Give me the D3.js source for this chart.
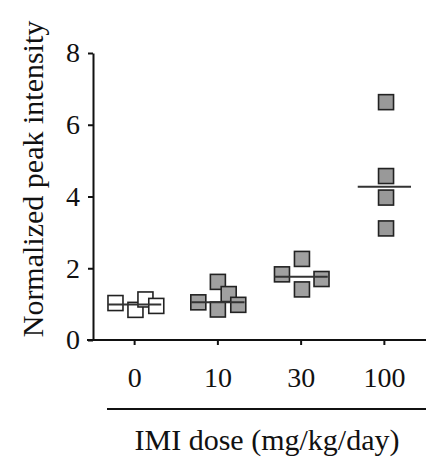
<!DOCTYPE html>
<html>
<head>
<meta charset="utf-8">
<script src="https://cdn.jsdelivr.net/npm/d3@7"></script>
<style>
    body { margin: 0; background: #fff; }
    text { font-family: "Liberation Serif", "Times New Roman", serif; fill: #111; }
</style>
</head>
<body>
<div id="chart"></div>
<script>
// dose groups (x categories)
const doses = ["0", "10", "30", "100"];
// normalized peak intensity per animal, per dose group
const dose0 = [1.03, 0.84, 1.13, 0.95];
const dose10 = [1.05, 1.62, 1.28, 0.85, 0.98];
const dose30 = [1.83, 2.26, 1.70, 1.41];
const dose100 = [6.63, 4.57, 3.97, 3.11];
// horizontal scatter of the points, as a fraction of the group band
const jitter0 = [-0.23, 0.01, 0.13, 0.26];
const jitter10 = [-0.235, 0, 0.13, 0, 0.245];
const jitter30 = [-0.23, 0.01, 0.245, 0.01];
const jitter100 = [0.02, 0.02, 0.02, 0.02];
const yTicks = [0, 2, 4, 6, 8];

const groups = [
    { dose: "0", values: dose0, jitter: jitter0, fill: "#ffffff" },
    { dose: "10", values: dose10, jitter: jitter10, fill: "#a0a0a0" },
    { dose: "30", values: dose30, jitter: jitter30, fill: "#a0a0a0" },
    { dose: "100", values: dose100, jitter: jitter100, fill: "#999999" }
];

const width = 426, height = 458;
const margin = { top: 53, left: 93, bottom: 340, right: 426 };
const sq = 15;

const svg = d3.select("#chart")
    .append("svg")
    .attr("width", width)
    .attr("height", height);

const xScale = d3.scaleBand().domain(doses).range([margin.left, margin.right]).paddingInner(0);
const yScale = d3.scaleLinear().domain([0, 8]).range([margin.bottom, margin.top]);
const cx = d => xScale(d) + xScale.bandwidth() / 2;

// y axis
const yAxis = svg.append("g")
    .attr("transform", `translate(${margin.left},0)`)
    .call(d3.axisLeft(yScale).tickValues(yTicks).tickSize(5).tickSizeOuter(0).tickPadding(8));
yAxis.select(".domain").attr("stroke", "#111").attr("stroke-width", 2);
yAxis.selectAll(".tick line").attr("stroke", "#111").attr("stroke-width", 2);
yAxis.selectAll(".tick text")
    .attr("font-size", "28px")
    .attr("font-family", "'Liberation Serif', 'Times New Roman', serif")
    .attr("fill", "#111");

// x axis
const xAxis = svg.append("g")
    .attr("transform", `translate(0,${margin.bottom})`)
    .call(d3.axisBottom(xScale).tickSize(5).tickSizeOuter(0).tickPadding(22));
xAxis.select(".domain")
    .attr("d", `M${margin.left - 6},0H${margin.right}`)
    .attr("stroke", "#111")
    .attr("stroke-width", 2);
xAxis.selectAll(".tick line").attr("stroke", "#111").attr("stroke-width", 2);
xAxis.selectAll(".tick text")
    .attr("font-size", "28px")
    .attr("font-family", "'Liberation Serif', 'Times New Roman', serif")
    .attr("fill", "#111");

// line separating tick labels from axis title
svg.append("line")
    .attr("x1", 107)
    .attr("x2", width)
    .attr("y1", 409)
    .attr("y2", 409)
    .attr("stroke", "#111")
    .attr("stroke-width", 2);

// data points
groups.forEach(g => {
    const pts = g.values.map((v, i) => ({ v: v, j: g.jitter[i] }));
    svg.selectAll(null)
        .data(pts)
        .enter().append("rect")
        .attr("x", d => cx(g.dose) + d.j * xScale.bandwidth() - sq / 2)
        .attr("y", d => yScale(d.v) - sq / 2)
        .attr("width", sq)
        .attr("height", sq)
        .attr("fill", g.fill)
        .attr("stroke", "#222")
        .attr("stroke-width", 1.6);
});

// median lines
svg.selectAll(".median")
    .data(groups)
    .enter().append("line")
    .attr("class", "median")
    .attr("x1", d => cx(d.dose) - xScale.bandwidth() * 0.32)
    .attr("x2", d => cx(d.dose) + xScale.bandwidth() * 0.32)
    .attr("y1", d => yScale(d3.median(d.values)))
    .attr("y2", d => yScale(d3.median(d.values)))
    .attr("stroke", "#333")
    .attr("stroke-width", 2);

// axis titles
svg.append("text")
    .attr("transform", "translate(43,179) rotate(-90)")
    .attr("text-anchor", "middle")
    .attr("font-size", "30px")
    .text("Normalized peak intensity");

svg.append("text")
    .attr("x", 267)
    .attr("y", 450)
    .attr("text-anchor", "middle")
    .attr("font-size", "30px")
    .text("IMI dose (mg/kg/day)");
</script>
</body>
</html>
